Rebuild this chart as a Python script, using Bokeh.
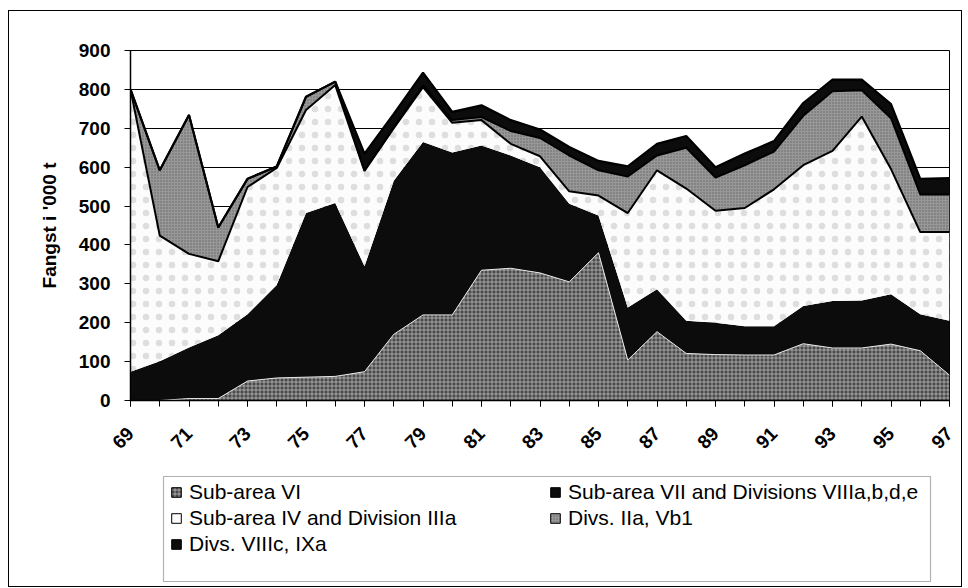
import math
import numpy as np
from bokeh.plotting import figure
from bokeh.models import Range1d, FixedTicker, Legend, LegendItem, BoxAnnotation
from bokeh.layouts import column
from bokeh.embed import file_html
from bokeh.resources import INLINE

# ---- data ('000 t), years 1969-1997 ----
years = list(range(69, 98))
sub_area_vi = [0, 0, 5, 5, 50, 58, 60, 62, 74, 170, 220, 220, 335, 340, 328,
               305, 380, 104, 177, 121, 118, 117, 117, 146, 135, 135, 145, 128, 65]
sub_area_vii = [74, 101, 131, 163, 172, 239, 422, 446, 271, 395, 445, 418, 321, 290, 272,
                201, 96, 135, 109, 84, 82, 74, 74, 97, 121, 122, 128, 94, 140]
sub_area_iv = [726, 323, 241, 190, 327, 301, 265, 303, 245, 135, 141, 76, 65, 30, 28,
               32, 51, 243, 306, 340, 288, 304, 352, 362, 386, 473, 322, 211, 228]
divs_iia = [0, 168, 357, 87, 21, 4, 34, 9, 2, 2, 5, 7, 8, 33, 47,
            92, 65, 94, 38, 105, 85, 110, 97, 127, 153, 68, 131, 97, 97]
divs_viiic = [0, 0, 0, 0, 0, 0, 0, 0, 43, 35, 32, 21, 30, 28, 22,
              22, 24, 26, 30, 30, 27, 30, 27, 33, 30, 27, 36, 40, 42]

series_names = ["Sub-area VI",
                "Sub-area VII and Divisions VIIIa,b,d,e",
                "Sub-area IV and Division IIIa",
                "Divs. IIa, Vb1",
                "Divs. VIIIc, IXa"]
x_label_years = list(range(69, 98, 2))
y_ticks = list(range(0, 901, 100))
y_title = "Fangst i '000 t"

styles = [
    dict(fill_color="#4a4a4a", hatch_pattern="cross", hatch_color="white",
         hatch_alpha=0.45, hatch_scale=4, hatch_weight=1),
    dict(fill_color="#0c0c0c"),
    dict(fill_color="#fcfcfc", hatch_pattern="dot", hatch_color="#c4c4c4",
         hatch_alpha=0.55, hatch_scale=13, hatch_weight=1),
    dict(fill_color="#989898", hatch_pattern="dot", hatch_color="#2a2a2a",
         hatch_alpha=0.5, hatch_scale=3, hatch_weight=1),
    dict(fill_color="#0c0c0c"),
]

FONT = "Liberation Sans"
W = 952
ML, MR = 121, 12

# ---- chart ----
p = figure(width=W, height=455, x_range=Range1d(69, 97), y_range=Range1d(0, 900),
           toolbar_location=None, output_backend="svg",
           min_border_left=ML, min_border_right=MR, min_border_top=39,
           min_border_bottom=66)
p.background_fill_color = "white"
p.border_fill_color = "white"
p.outline_line_color = "black"
p.outline_line_width = 1

data = [sub_area_vi, sub_area_vii, sub_area_iv, divs_iia, divs_viiic]
x = np.array(years, dtype=float)
base = np.zeros(len(years))
tops = []
for vals, st in zip(data, styles):
    top = base + np.array(vals, dtype=float)
    p.varea(x=x, y1=base, y2=top, **st)
    tops.append(top)
    base = top

# boundary lines
p.line(x, tops[0], line_color="#e8e8e8", line_width=1)
p.line(x, tops[2], line_color="black", line_width=2)
p.line(x, tops[3], line_color="black", line_width=2)
p.line(x, tops[4], line_color="black", line_width=2.2)

# axes
p.xaxis.ticker = FixedTicker(ticks=x_label_years, minor_ticks=years)
p.xaxis.major_label_orientation = math.pi / 4
p.xaxis.major_tick_out = 6
p.xaxis.major_tick_in = 0
p.xaxis.minor_tick_out = 6
p.xaxis.minor_tick_in = 0
p.xaxis.major_label_standoff = 24

p.yaxis.ticker = FixedTicker(ticks=y_ticks)
p.yaxis.major_tick_out = 6
p.yaxis.major_tick_in = 0
p.yaxis.minor_tick_out = 0
p.yaxis.minor_tick_in = 0
p.yaxis.major_label_standoff = 14
p.yaxis.axis_label = y_title
p.yaxis.axis_label_standoff = 16
p.yaxis.axis_label_text_font = FONT
p.yaxis.axis_label_text_font_style = "bold"
p.yaxis.axis_label_text_font_size = "19px"
p.yaxis.axis_label_text_color = "black"

for ax in (p.xaxis, p.yaxis):
    ax.axis_line_color = "black"
    ax.axis_line_width = 1.5
    ax.major_tick_line_color = "black"
    ax.minor_tick_line_color = "black"
    ax.major_label_text_font = FONT
    ax.major_label_text_font_style = "bold"
    ax.major_label_text_font_size = "19px"
    ax.major_label_text_color = "black"

p.xgrid.visible = False
p.ygrid.ticker = FixedTicker(ticks=y_ticks)
p.ygrid.grid_line_color = "black"
p.ygrid.grid_line_width = 1.2

# ---- legend panel (frame aligned with chart frame) ----
H2 = 120
p2 = figure(width=W, height=H2, x_range=Range1d(0, W - ML - MR), y_range=Range1d(0, H2),
            toolbar_location=None, output_backend="svg",
            min_border_left=ML, min_border_right=MR, min_border_top=0,
            min_border_bottom=0)
p2.axis.visible = False
p2.grid.visible = False
p2.outline_line_color = None
p2.background_fill_color = "white"
p2.border_fill_color = "white"

# legend frame box
p2.add_layout(BoxAnnotation(left=33, right=800, bottom=5, top=110,
                            fill_alpha=0, line_color="black", line_width=1.2))

items = []
for name, st in zip(series_names, styles):
    r = p2.scatter(x=[-100], y=[-100], marker="square", size=10, line_color="black",
                   line_width=1, **st)
    items.append(LegendItem(label=name, renderers=[r]))

def make_legend(its, loc):
    return Legend(items=its, location=loc, orientation="vertical", padding=0, margin=0,
                  spacing=0, border_line_alpha=0, background_fill_alpha=0,
                  label_text_font=FONT, label_text_font_size="21px",
                  label_text_color="black",
                  glyph_width=24, glyph_height=26, label_height=26, label_standoff=1)

p2.add_layout(make_legend([items[0], items[2], items[4]], (34, 29)))
p2.add_layout(make_legend([items[1], items[3]], (413, 55)))

layout = column(p, p2, spacing=0,
                styles={"border": "1px solid black", "margin-left": "8px",
                        "margin-top": "10px"})

open("out.html", "w").write(file_html(layout, INLINE))
